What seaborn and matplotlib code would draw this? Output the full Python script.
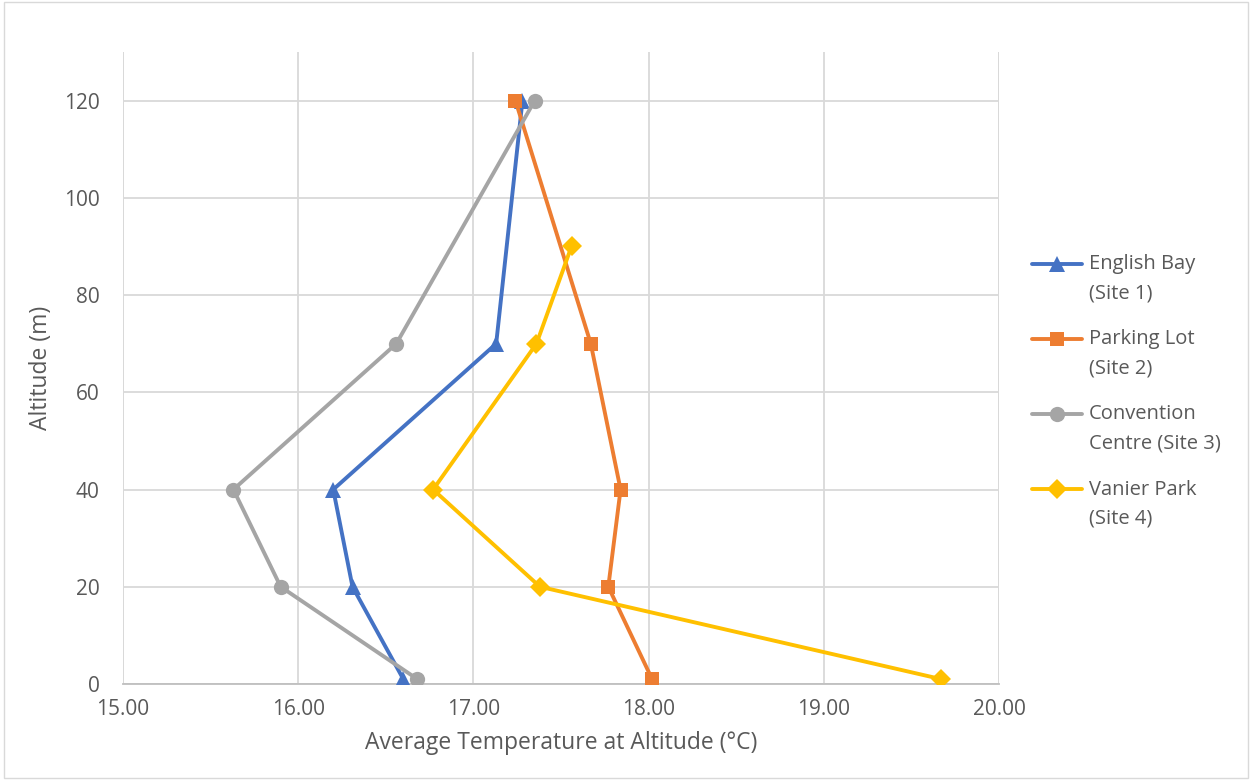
import numpy as np
import pandas as pd
import matplotlib
matplotlib.use("Agg")
import matplotlib.pyplot as plt
from matplotlib.lines import Line2D
from matplotlib.legend_handler import HandlerLine2D
import seaborn as sns

# Average temperature profiles (°C) by altitude (m) at four sites
sites = ["English Bay\n(Site 1)", "Parking Lot\n(Site 2)",
         "Convention\nCentre (Site 3)", "Vanier Park\n(Site 4)"]

alt_english = [1, 20, 40, 70, 120]
temp_english = [16.60, 16.31, 16.20, 17.13, 17.28]

alt_parking = [1, 20, 40, 70, 120]
temp_parking = [18.02, 17.77, 17.84, 17.67, 17.24]

alt_convention = [1, 20, 40, 70, 120]
temp_convention = [16.68, 15.90, 15.63, 16.56, 17.35]

alt_vanier = [1, 20, 40, 70, 90]
temp_vanier = [19.67, 17.38, 16.77, 17.36, 17.56]

x_ticks = [15.0, 16.0, 17.0, 18.0, 19.0, 20.0]
y_ticks = [0, 20, 40, 60, 80, 100, 120]

frames = []
for name, alts, temps in zip(
        sites,
        [alt_english, alt_parking, alt_convention, alt_vanier],
        [temp_english, temp_parking, temp_convention, temp_vanier]):
    frames.append(pd.DataFrame({"site": name, "altitude": alts, "temp": temps}))
df = pd.concat(frames, ignore_index=True)

palette = dict(zip(sites, ["#4472C4", "#ED7D31", "#A5A5A5", "#FFC000"]))
markers = dict(zip(sites, ["^", "s", "o", "D"]))
msizes = dict(zip(sites, [11, 10.5, 11, 10]))


class FirstLineHandler(HandlerLine2D):
    """Legend handle aligned with the first line of a two-line label."""

    def __init__(self, shift, **kw):
        super().__init__(**kw)
        self.shift = shift

    def create_artists(self, legend, orig_handle, xdescent, ydescent,
                       width, height, fontsize, trans):
        artists = super().create_artists(legend, orig_handle, xdescent, ydescent,
                                         width, height, fontsize, trans)
        for a in artists:
            a.set_ydata(np.asarray(a.get_ydata(), dtype=float) + self.shift)
        return artists


sns.set_theme(style="white")
plt.rcParams["font.family"] = ["Open Sans", "DejaVu Sans"]
text_col = "#595959"

fig = plt.figure(figsize=(12.52, 7.8), dpi=100)
ax = fig.add_axes([123 / 1252, 1 - 684 / 780, (999 - 123) / 1252, (684 - 52) / 780])

for name in sites:
    sub = df[df["site"] == name]
    sns.lineplot(data=sub, x="temp", y="altitude", sort=False, estimator=None,
                 color=palette[name], marker=markers[name],
                 markersize=msizes[name], markeredgewidth=0, linewidth=2.8,
                 label=name, ax=ax, zorder=3)

ax.set_xlim(15, 20)
ax.set_ylim(0, 130)
ax.set_xticks(x_ticks)
ax.set_xticklabels([f"{v:.2f}" for v in x_ticks])
ax.set_yticks(y_ticks)
ax.grid(True, color="#D9D9D9", linewidth=1.3)
ax.set_axisbelow(True)
for side in ["top", "right", "left"]:
    ax.spines[side].set_visible(False)
ax.spines["bottom"].set_color("#BFBFBF")
ax.spines["bottom"].set_linewidth(1.3)
ax.axvline(15, color="#D9D9D9", linewidth=1.3, zorder=0)
ax.axvline(20, color="#D9D9D9", linewidth=1.3, zorder=0)
ax.tick_params(axis="both", length=0, labelsize=15, labelcolor=text_col)
ax.tick_params(axis="x", pad=11)
ax.tick_params(axis="y", pad=17)

ax.set_xlabel("Average Temperature at Altitude (°C)", fontsize=16.5, color=text_col, labelpad=8)
ax.set_ylabel("Altitude (m)", fontsize=16.5, color=text_col, labelpad=8)

handles, labels = ax.get_legend_handles_labels()
leg = ax.legend(handles, labels, loc="upper left",
                bbox_to_anchor=(1014 / 1252, 1 - 236 / 780),
                bbox_transform=fig.transFigure, frameon=False, fontsize=14.5,
                labelspacing=1.3, handlelength=2.5, handletextpad=0.3,
                handler_map={Line2D: FirstLineHandler(11.0)})
for t in leg.get_texts():
    t.set_color(text_col)
    t.set_linespacing(1.6)

# Chart area border
fig.patches.append(plt.Rectangle((0.003, 0.003), 0.994, 0.994, transform=fig.transFigure,
                                 fill=False, edgecolor="#D9D9D9", linewidth=1.0))

fig.savefig("out.png", dpi=100, facecolor="white")
